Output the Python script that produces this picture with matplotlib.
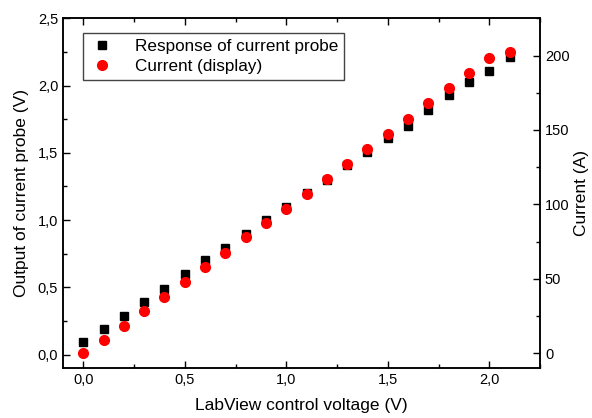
import matplotlib
matplotlib.use("Agg")
import matplotlib.pyplot as plt
from matplotlib.ticker import MultipleLocator, FuncFormatter

plt.rcParams['font.family'] = ['Liberation Sans', 'DejaVu Sans']

# LabView control voltage (V)
voltage = [0.0, 0.1, 0.2, 0.3, 0.4, 0.5, 0.6, 0.7, 0.8, 0.9, 1.0,
           1.1, 1.2, 1.3, 1.4, 1.5, 1.6, 1.7, 1.8, 1.9, 2.0, 2.1]
# output of current probe (V)
probe = [0.09, 0.19, 0.29, 0.39, 0.49, 0.60, 0.70, 0.79, 0.90, 1.00, 1.10,
         1.20, 1.30, 1.41, 1.51, 1.61, 1.70, 1.82, 1.93, 2.03, 2.11, 2.21]
# current shown on display (A)
current = [0.0, 8.8, 18.2, 28.1, 37.7, 47.8, 57.7, 67.5, 77.8, 87.2, 96.8,
           107.2, 117.0, 127.3, 137.2, 147.2, 157.3, 167.9, 178.0, 188.2, 198.3, 202.6]

fig = plt.figure(figsize=(5.92, 4.18), dpi=100)
ax = fig.add_axes([0.1064, 0.1196, 0.8058, 0.8364])
ax2 = ax.twinx()

l1, = ax.plot(voltage, probe, 's', color='black', markersize=6, linestyle='none',
              label='Response of current probe')
l2, = ax2.plot(voltage, current, 'o', color='#ff0000', markersize=7, linestyle='none',
               label='Current (display)')

ax.set_xlim(-0.1, 2.25)
ax.set_ylim(-0.1, 2.5)
ax2.set_ylim(-10, 225)

comma = FuncFormatter(lambda v, p: ('%.1f' % v).replace('.', ','))
ax.xaxis.set_major_locator(MultipleLocator(0.5))
ax.xaxis.set_minor_locator(MultipleLocator(0.25))
ax.yaxis.set_major_locator(MultipleLocator(0.5))
ax.yaxis.set_minor_locator(MultipleLocator(0.25))
ax.xaxis.set_major_formatter(comma)
ax.yaxis.set_major_formatter(comma)
ax2.yaxis.set_major_locator(MultipleLocator(50))
ax2.yaxis.set_minor_locator(MultipleLocator(25))

ax.tick_params(which='both', direction='in', top=True, right=False, labelsize=10.5, width=1)
ax.tick_params(which='major', length=5)
ax.tick_params(which='minor', length=3)
ax2.tick_params(which='both', direction='in', labelsize=10.5, width=1)
ax2.tick_params(which='major', length=5)
ax2.tick_params(which='minor', length=3)

for a in (ax, ax2):
    for s in a.spines.values():
        s.set_linewidth(1.1)

ax.set_xlabel('LabView control voltage (V)', fontsize=12.5, labelpad=8)
ax.set_ylabel('Output of current probe (V)', fontsize=12.5, labelpad=6)
ax2.set_ylabel('Current (A)', fontsize=12.5, labelpad=3)

leg = ax2.legend(handles=[l1, l2], loc='upper left', bbox_to_anchor=(0.042, 0.958),
                 borderaxespad=0, fontsize=12.3, fancybox=False, framealpha=1,
                 edgecolor='#444444', handletextpad=1.2, borderpad=0.35,
                 labelspacing=0.3, handlelength=1.5)
leg.get_frame().set_linewidth(1)

fig.savefig('out.png', dpi=100)
